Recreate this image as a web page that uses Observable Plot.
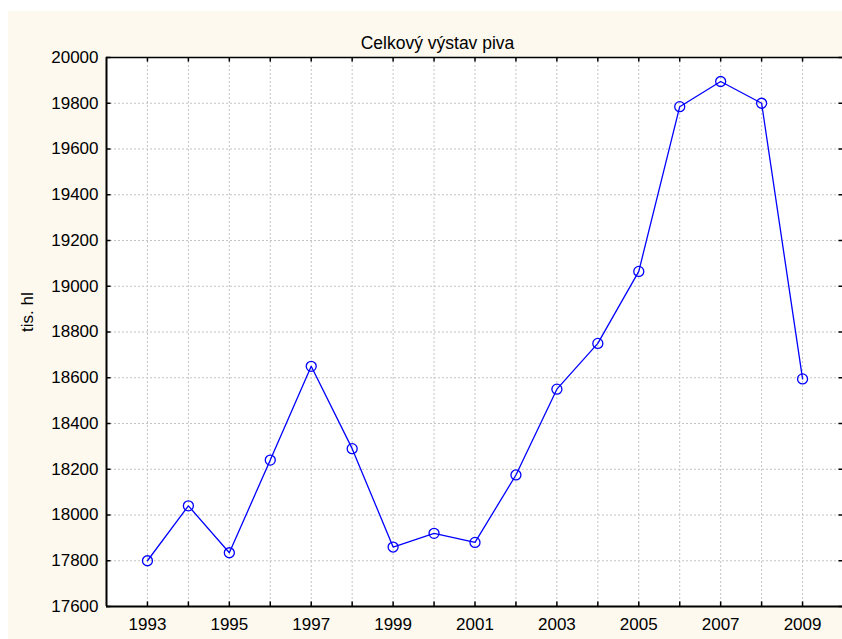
<!DOCTYPE html>
<html>
<head>
<meta charset="utf-8">
<script src="https://cdn.jsdelivr.net/npm/d3@7"></script>
<script src="https://cdn.jsdelivr.net/npm/@observablehq/plot@0.6"></script>
<style>
  html, body { margin: 0; padding: 0; background: #ffffff; }
  #wrap { position: relative; width: 842px; height: 639px; overflow: hidden; }
  #bg { position: absolute; left: 8px; top: 11px; width: 900px; height: 700px; background: #fdf9ee; }
  #chart { position: absolute; left: 0; top: 0; }
  svg { font-family: "Liberation Sans", Arial, sans-serif; }
</style>
</head>
<body>
<div id="wrap"><div id="bg"></div><div id="chart"></div></div>
<script>
const title = "Celkový výstav piva";
const yLabel = "tis. hl";
const years = [1993, 1994, 1995, 1996, 1997, 1998, 1999, 2000, 2001, 2002, 2003, 2004, 2005, 2006, 2007, 2008, 2009];
const output = [17800, 18040, 17835, 18240, 18650, 18290, 17860, 17920, 17880, 18175, 18550, 18750, 19065, 19785, 19895, 19800, 18595];
const xTicks = [1993, 1994, 1995, 1996, 1997, 1998, 1999, 2000, 2001, 2002, 2003, 2004, 2005, 2006, 2007, 2008, 2009];
const xTickLabels = [1993, 1995, 1997, 1999, 2001, 2003, 2005, 2007, 2009];
const yTicks = [17600, 17800, 18000, 18200, 18400, 18600, 18800, 19000, 19200, 19400, 19600, 19800, 20000];

const data = years.map((y, i) => ({year: y, value: output[i]}));
const yMin = 17600, yMax = 20000, xMin = 1992, xMax = 2010;
const tickLenY = 20;   // in data units (~4.5px)
const tickLenX = 0.11; // in years (~4.5px)

const chart = Plot.plot({
  width: 842,
  height: 639,
  marginLeft: 106,
  marginTop: 57,
  marginRight: 0,
  marginBottom: 33,
  style: {background: "transparent", fontFamily: "'Liberation Sans', Arial, sans-serif", fontSize: "17px", color: "#000"},
  x: {domain: [xMin, xMax], range: [106, 843]},
  y: {domain: [yMin, yMax]},
  marks: [
    Plot.frame({fill: "white", stroke: "none"}),
    Plot.gridX(xTicks, {stroke: "#c4c4c4", strokeOpacity: 1, strokeDasharray: "2,2"}),
    Plot.gridY(yTicks, {stroke: "#c4c4c4", strokeOpacity: 1, strokeDasharray: "2,2"}),
    // inward tick marks
    Plot.ruleX(xTicks, {x: d => d, y1: yMin, y2: yMin + tickLenY, stroke: "black", strokeWidth: 1.5}),
    Plot.ruleX(xTicks, {x: d => d, y1: yMax, y2: yMax - tickLenY, stroke: "black", strokeWidth: 1.5}),
    Plot.ruleY(yTicks, {y: d => d, x1: xMin, x2: xMin + tickLenX, stroke: "black", strokeWidth: 1.5}),
    Plot.ruleY(yTicks, {y: d => d, x1: xMax, x2: xMax - tickLenX, stroke: "black", strokeWidth: 1.5}),
    Plot.axisX(xTickLabels, {tickSize: 0, tickPadding: 11, tickFormat: d => String(d), fontSize: 17, label: null}),
    Plot.axisY(yTicks, {tickSize: 0, tickPadding: 8, tickFormat: d => String(d), fontSize: 17, label: null}),
    Plot.ruleX([xMin], {stroke: "black", strokeWidth: 2}),
    Plot.ruleY([yMin], {stroke: "black", strokeWidth: 2}),
    Plot.ruleY([yMax], {stroke: "black", strokeWidth: 1.5}),
    Plot.line(data, {x: "year", y: "value", stroke: "#0000ff", strokeWidth: 1.3}),
    Plot.dot(data, {x: "year", y: "value", r: 5, stroke: "#0000ff", strokeWidth: 1.3, fill: "none"}),
    Plot.text([title], {frameAnchor: "top-left", dx: 331, dy: -21, text: d => d, fontSize: 17.5, fill: "black", textAnchor: "middle"}),
    Plot.text([yLabel], {frameAnchor: "left", dx: -79, dy: 0, text: d => d, rotate: -90, fontSize: 17, fill: "black"})
  ]
});
document.getElementById("chart").appendChild(chart);
</script>
</body>
</html>
